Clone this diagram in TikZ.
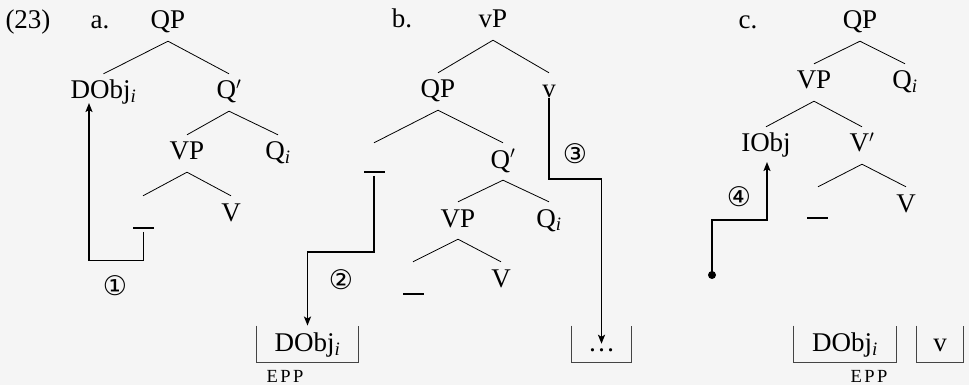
\documentclass[tikz,border=0pt]{standalone}
\usepackage{fontspec}
\setmainfont{Liberation Serif}
\newfontfamily\symfont{DejaVu Sans}
\usetikzlibrary{arrows.meta}
\definecolor{bg}{HTML}{F5F5F5}
\definecolor{boxc}{HTML}{444444}
\newcommand{\sbi}{\textsubscript{\itshape i}}
\newcommand{\epptext}{E\kern2.5pt P\kern2.5pt P}
\begin{document}
\begin{tikzpicture}[x=1pt,y=1pt,
  every node/.style={font=\fontsize{27}{27}\selectfont, inner sep=0pt},
  lab/.style={anchor=base},
  tn/.style={anchor=base, text height=21pt, text depth=8pt, inner ysep=4pt, inner xsep=1pt},
  edge/.style={line width=0.8pt},
  trace/.style={fill=black, minimum width=21pt, minimum height=1.5pt, inner sep=0pt},
  arr/.style={line width=1.7pt, -{Stealth[length=9pt,width=7pt,inset=2pt]}},
  boxn/.style={anchor=south, text height=26pt, text depth=10pt, inner sep=0pt},
  boxline/.style={line width=0.9pt, draw=boxc},
  numf/.style={font=\symfont\fontsize{27}{27}\selectfont},
  epp/.style={anchor=base, font=\fontsize{18.5}{18.5}\selectfont}]
\useasboundingbox (0,0) rectangle (969,-385);
\fill[bg] (0,0) rectangle (969,-385);

% ---------- (23) a.
\node[lab] (ex) at (28,-29) {(23)};
\node[lab] (la) at (100,-29) {a.};
\node[tn] (aQP) at (168,-29) {QP};
\node[tn] (aDObj) at (103.5,-99) {DObj\sbi};
\node[tn] (aQb) at (229,-99) {Q$'$};
\node[tn] (aVP) at (187,-160) {VP};
\node[tn] (aQi) at (278,-160) {Q\sbi};
\node[tn] (aE) at (143,-221) {\phantom{V}};
\node[tn] (aV) at (231,-221) {V};
\node[trace] (aT) at (143.5,-228) {};
\draw[edge] (aQP.south) -- (aDObj.north);
\draw[edge] (aQP.south) -- (aQb.north);
\draw[edge] (aQb.south) -- (aVP.north);
\draw[edge] (aQb.south) -- (aQi.north);
\draw[edge] (aVP.south) -- (aE.north);
\draw[edge] (aVP.south) -- (aV.north);
\draw[arr] ([yshift=-3pt]aT.south) -- ++(0,-28.5) -| ([xshift=-14.5pt,yshift=-4pt]aDObj.base);
\node[numf] (n1) at (115,-286) {①};

% ---------- b.
\node[lab] (lb) at (402,-28) {b.};
\node[tn] (bvP) at (493,-28) {vP};
\node[tn] (bQP) at (438,-98) {QP};
\node[tn] (bv) at (549,-98) {v};
\node[tn] (bE) at (374,-168) {\phantom{V}};
\node[tn] (bQb) at (503,-168) {Q$'$};
\node[trace] (bT) at (374,-172) {};
\node[tn] (bVP) at (458,-227) {VP};
\node[tn] (bQi) at (549,-227) {Q\sbi};
\node[tn] (bE2) at (413,-287) {\phantom{V}};
\node[tn] (bV) at (501,-287) {V};
\node[trace] (bT2) at (413.5,-294) {};
\draw[edge] (bvP.south) -- (bQP.north);
\draw[edge] (bvP.south) -- (bv.north);
\draw[edge] (bQP.south) -- (bE.north);
\draw[edge] (bQP.south) -- (bQb.north);
\draw[edge] (bQb.south) -- (bVP.north);
\draw[edge] (bQb.south) -- (bQi.north);
\draw[edge] (bVP.south) -- (bE2.north);
\draw[edge] (bVP.south) -- (bV.north);
\node[boxn, minimum width=101pt] (bBox) at (307.5,-362) {DObj\sbi};
\node[boxn, minimum width=59pt] (bDots) at (601.5,-362) {\dots};
\draw[boxline] (bBox.north west) |- (bBox.south east) -- (bBox.north east);
\draw[boxline] (bDots.north west) |- (bDots.south east) -- (bDots.north east);
\node[epp] (eppb) at (285,-382) {\epptext};
\draw[arr] ([yshift=-3pt]bT.south) -- ++(0,-76.3) -| (bBox.north);
\draw[arr] (bv.base) -- ++(0,-81) -| (bDots.center);
\node[numf] (n2) at (341,-280) {②};
\node[numf] (n3) at (575,-154) {③};

% ---------- c.
\node[lab] (lc) at (748,-29) {c.};
\node[tn] (cQP) at (860,-29) {QP};
\node[tn] (cVP) at (814,-89) {VP};
\node[tn] (cQi) at (905,-89) {Q\sbi};
\node[tn] (cIObj) at (766,-152) {IObj};
\node[tn] (cVb) at (862,-152) {V$'$};
\node[tn] (cE) at (818,-212) {\phantom{V}};
\node[tn] (cV) at (906,-212) {V};
\node[trace] (cT) at (817.5,-218) {};
\draw[edge] (cQP.south) -- (cVP.north);
\draw[edge] (cQP.south) -- (cQi.north);
\draw[edge] (cVP.south) -- (cIObj.north);
\draw[edge] (cVP.south) -- (cVb.north);
\draw[edge] (cVb.south) -- (cE.north);
\draw[edge] (cVb.south) -- (cV.north);
\node[circle, fill=black, minimum size=8pt, inner sep=0pt] (cDot) at (712,-275) {};
\draw[arr] (cDot.center) -- ++(0,55) -| ([xshift=1pt,yshift=-10pt]cIObj.base);
\node[numf] (n4) at (739,-197) {④};
\node[boxn, minimum width=102pt] (cBox) at (845,-362) {DObj\sbi};
\node[boxn, minimum width=46pt] (cvBox) at (940,-362) {v};
\draw[boxline] (cBox.north west) |- (cBox.south east) -- (cBox.north east);
\draw[boxline] (cvBox.north west) |- (cvBox.south east) -- (cvBox.north east);
\node[epp] (eppc) at (869,-382) {\epptext};
\end{tikzpicture}
\end{document}
